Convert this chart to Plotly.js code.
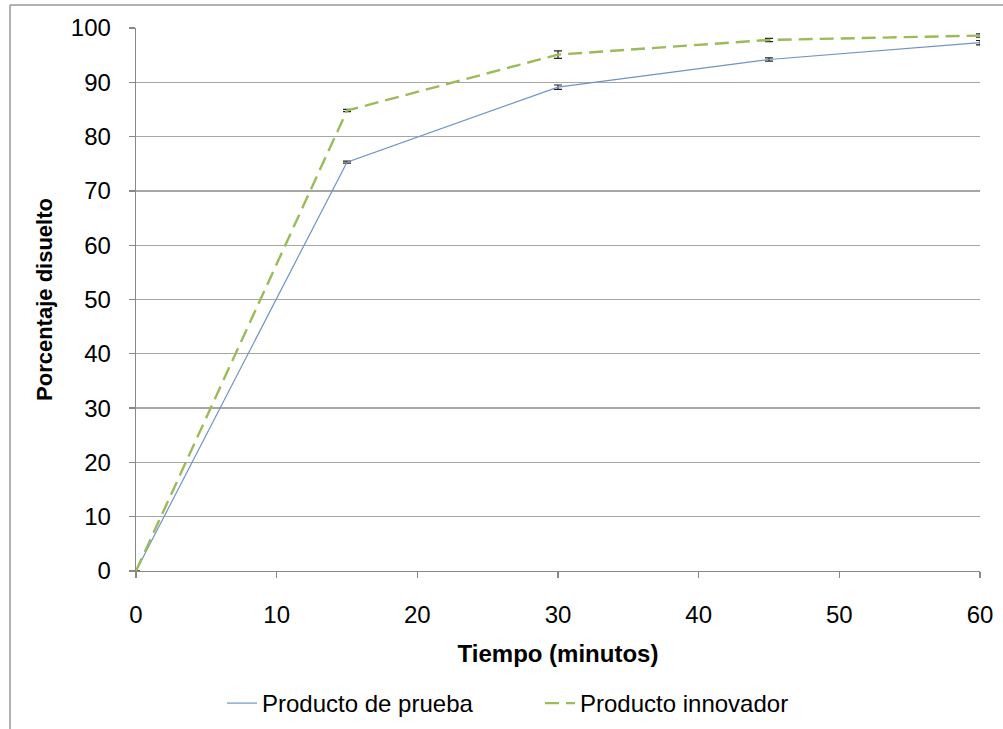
<!DOCTYPE html>
<html>
<head>
<meta charset="utf-8">
<script src="https://cdn.plot.ly/plotly-3.0.1.min.js"></script>
<style>html,body{margin:0;padding:0;background:#fff;}#chart{width:1003px;height:729px;}</style>
</head>
<body>
<div id="chart"></div>
<script>
var tiempo = [0, 15, 30, 45, 60];
var prueba = [0, 75.3, 89.1, 94.2, 97.3];
var pruebaErr = [0, 0.2, 0.4, 0.3, 0.4];
var innovador = [0, 84.8, 95.1, 97.8, 98.6];
var innovadorErr = [0, 0.2, 0.7, 0.3, 0.3];
var yTicks = [0, 10, 20, 30, 40, 50, 60, 70, 80, 90, 100];
var xTicks = [0, 10, 20, 30, 40, 50, 60];

var W = 1003, H = 729, mL = 136, mR = 23, mT = 28, mB = 158;
var pw = W - mL - mR, ph = H - mT - mB;
function px(x){ return (x - mL) / pw; }
function py(y){ return (H - mB - y) / ph; }

var traces = [
  {x: tiempo, y: prueba, name: 'Producto de prueba', mode: 'lines',
   line: {color: '#6f93c4', width: 1.2},
   error_y: {type: 'data', array: pruebaErr, visible: true, color: '#222', thickness: 1.2, width: 4}},
  {x: tiempo, y: innovador, name: 'Producto innovador', mode: 'lines',
   line: {color: '#9bbb59', width: 2.4, dash: '14px,7px'},
   error_y: {type: 'data', array: innovadorErr, visible: true, color: '#222', thickness: 1.2, width: 4}}
];

var layout = {
  width: W, height: H,
  margin: {l: mL, r: mR, t: mT, b: mB, autoexpand: false},
  paper_bgcolor: '#fff', plot_bgcolor: '#fff',
  font: {family: 'Liberation Sans, Arial, sans-serif', size: 24, color: '#000'},
  showlegend: true,
  legend: {orientation: 'h', x: px(222), xanchor: 'left', y: py(681), yanchor: 'top',
           font: {size: 24}, itemwidth: 30, entrywidth: 273, tracegroupgap: 0},
  xaxis: {range: [0, 60], tickvals: xTicks, ticktext: xTicks.map(String),
          showgrid: false, zeroline: false, showline: true, linecolor: '#888', linewidth: 1.3,
          ticks: 'outside', ticklen: 6, tickcolor: '#888', tickwidth: 1.3,
          ticklabelstandoff: 16,
          title: {text: '<b>Tiempo (minutos)</b>', font: {size: 24}, standoff: 18}},
  yaxis: {range: [0, 100], tickvals: yTicks, ticktext: yTicks.map(String),
          showgrid: true, gridcolor: '#a6a6a6', gridwidth: 1.3, zeroline: false,
          showline: true, linecolor: '#888', linewidth: 1.3,
          ticks: 'outside', ticklen: 6, tickcolor: '#888', tickwidth: 1.3,
          ticklabelstandoff: 13,
          title: {text: '<b>Porcentaje disuelto</b>', font: {size: 22}, standoff: 12}},
  shapes: [
    {type: 'line', xref: 'paper', yref: 'paper', x0: px(10), x1: px(1010), y0: py(5), y1: py(5),
     line: {color: '#999', width: 1.5}},
    {type: 'line', xref: 'paper', yref: 'paper', x0: px(10), x1: px(10), y0: py(5), y1: py(735),
     line: {color: '#999', width: 1.5}}
  ]
};

Plotly.newPlot('chart', traces, layout, {displayModeBar: false, staticPlot: true});
</script>
</body>
</html>
